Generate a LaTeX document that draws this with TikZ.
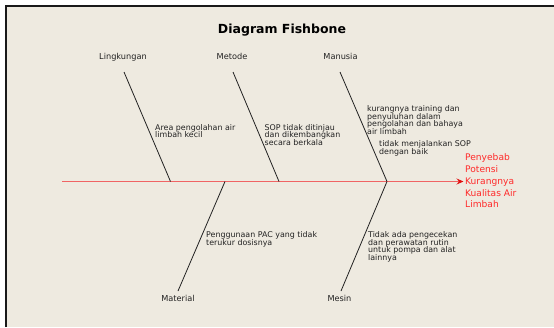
\documentclass[tikz,border=0pt]{standalone}
\usepackage{fontspec}
\setmainfont{DejaVu Sans}
\usetikzlibrary{arrows.meta}
\definecolor{paper}{HTML}{EEEAE0}
\definecolor{spinecol}{RGB}{240,100,100}
\definecolor{effectcol}{HTML}{FF2A2A}
\definecolor{arrowcol}{HTML}{E01010}
\definecolor{bonecol}{HTML}{222222}
\setlength{\lineskiplimit}{-20pt}
\begin{document}
\begin{tikzpicture}[x=1pt,y=-1pt,
  titlestyle/.style={font=\fontsize{12.5}{14}\selectfont\bfseries, inner sep=0pt, anchor=base, text=black},
  catstyle/.style={font=\fontsize{8.2}{9}\selectfont, inner sep=0pt, anchor=base, text=bonecol},
  causestyle/.style={font=\fontsize{7.9}{7.5}\selectfont, inner sep=0pt, anchor=north west, align=left, text=bonecol},
  effectstyle/.style={font=\fontsize{9.1}{11.8}\selectfont, inner sep=0pt, anchor=north west, align=left, text=effectcol},
  bone/.style={draw=bonecol, line width=0.8pt},
  spineline/.style={draw=spinecol, line width=1.3pt},
  spinetip/.style={-{Stealth[length=7pt,width=6pt,inset=2.5pt,color=arrowcol]}}]
\useasboundingbox (0,0) rectangle (554,327);
\fill[white] (0,0) rectangle (554,327);
\fill[paper] (6,6) rectangle (554,327);
\draw[line width=1.5pt, draw=black!90] (6,327) -- (6,6) -- (554,6);

% title
\node[titlestyle] (title) at (282,33.6) {Diagram Fishbone};

% category labels
\node[catstyle] (lingk) at (123,59) {Lingkungan};
\node[catstyle] (metode) at (232,59) {Metode};
\node[catstyle] (manusia) at (340.5,59) {Manusia};
\node[catstyle] (material) at (178,301) {Material};
\node[catstyle] (mesin) at (339.5,301) {Mesin};

% effect
\node[effectstyle] (effect) at (465,153.5) {Penyebab\\Potensi\\Kurangnya\\Kualitas Air\\Limbah};

% bone end points
\coordinate (tail) at (62,181.5);
\coordinate (lingkTop) at (124,72);
\coordinate (lingkEnd) at (170.5,181.5);
\coordinate (metodeTop) at (233,72);
\coordinate (metodeEnd) at (279,181.5);
\coordinate (manusiaTop) at (340,72);
\coordinate (manusiaEnd) at (387,181.5);
\coordinate (materialEnd) at (225,181.5);
\coordinate (materialBot) at (178,291);
\coordinate (mesinEnd) at (387,181.5);
\coordinate (mesinBot) at (341,291);

% spine
\draw[spineline, spinetip, shorten >=1.5pt] (tail) -- (tail -| effect.west);

% bones
\draw[bone] (lingkTop) -- (lingkEnd);
\draw[bone] (metodeTop) -- (metodeEnd);
\draw[bone] (manusiaTop) -- (manusiaEnd);
\draw[bone] (materialEnd) -- (materialBot);
\draw[bone] (mesinEnd) -- (mesinBot);

% causes
\node[causestyle] (c1) at (155,124) {Area pengolahan air\\limbah kecil};
\node[causestyle] (c2) at (264.5,124) {SOP tidak ditinjau\\dan dikembangkan\\secara berkala};
\node[causestyle] (c3) at (367,105.7) {kurangnya training dan\\penyuluhan dalam\\pengolahan dan bahaya\\air limbah};
\node[causestyle] (c4) at (379,140.7) {tidak menjalankan SOP\\dengan baik};
\node[causestyle] (c5) at (206,231.5) {Penggunaan PAC yang tidak\\terukur dosisnya};
\node[causestyle] (c6) at (368,231.7) {Tidak ada pengecekan\\dan perawatan rutin\\untuk pompa dan alat\\lainnya};
\end{tikzpicture}
\end{document}
